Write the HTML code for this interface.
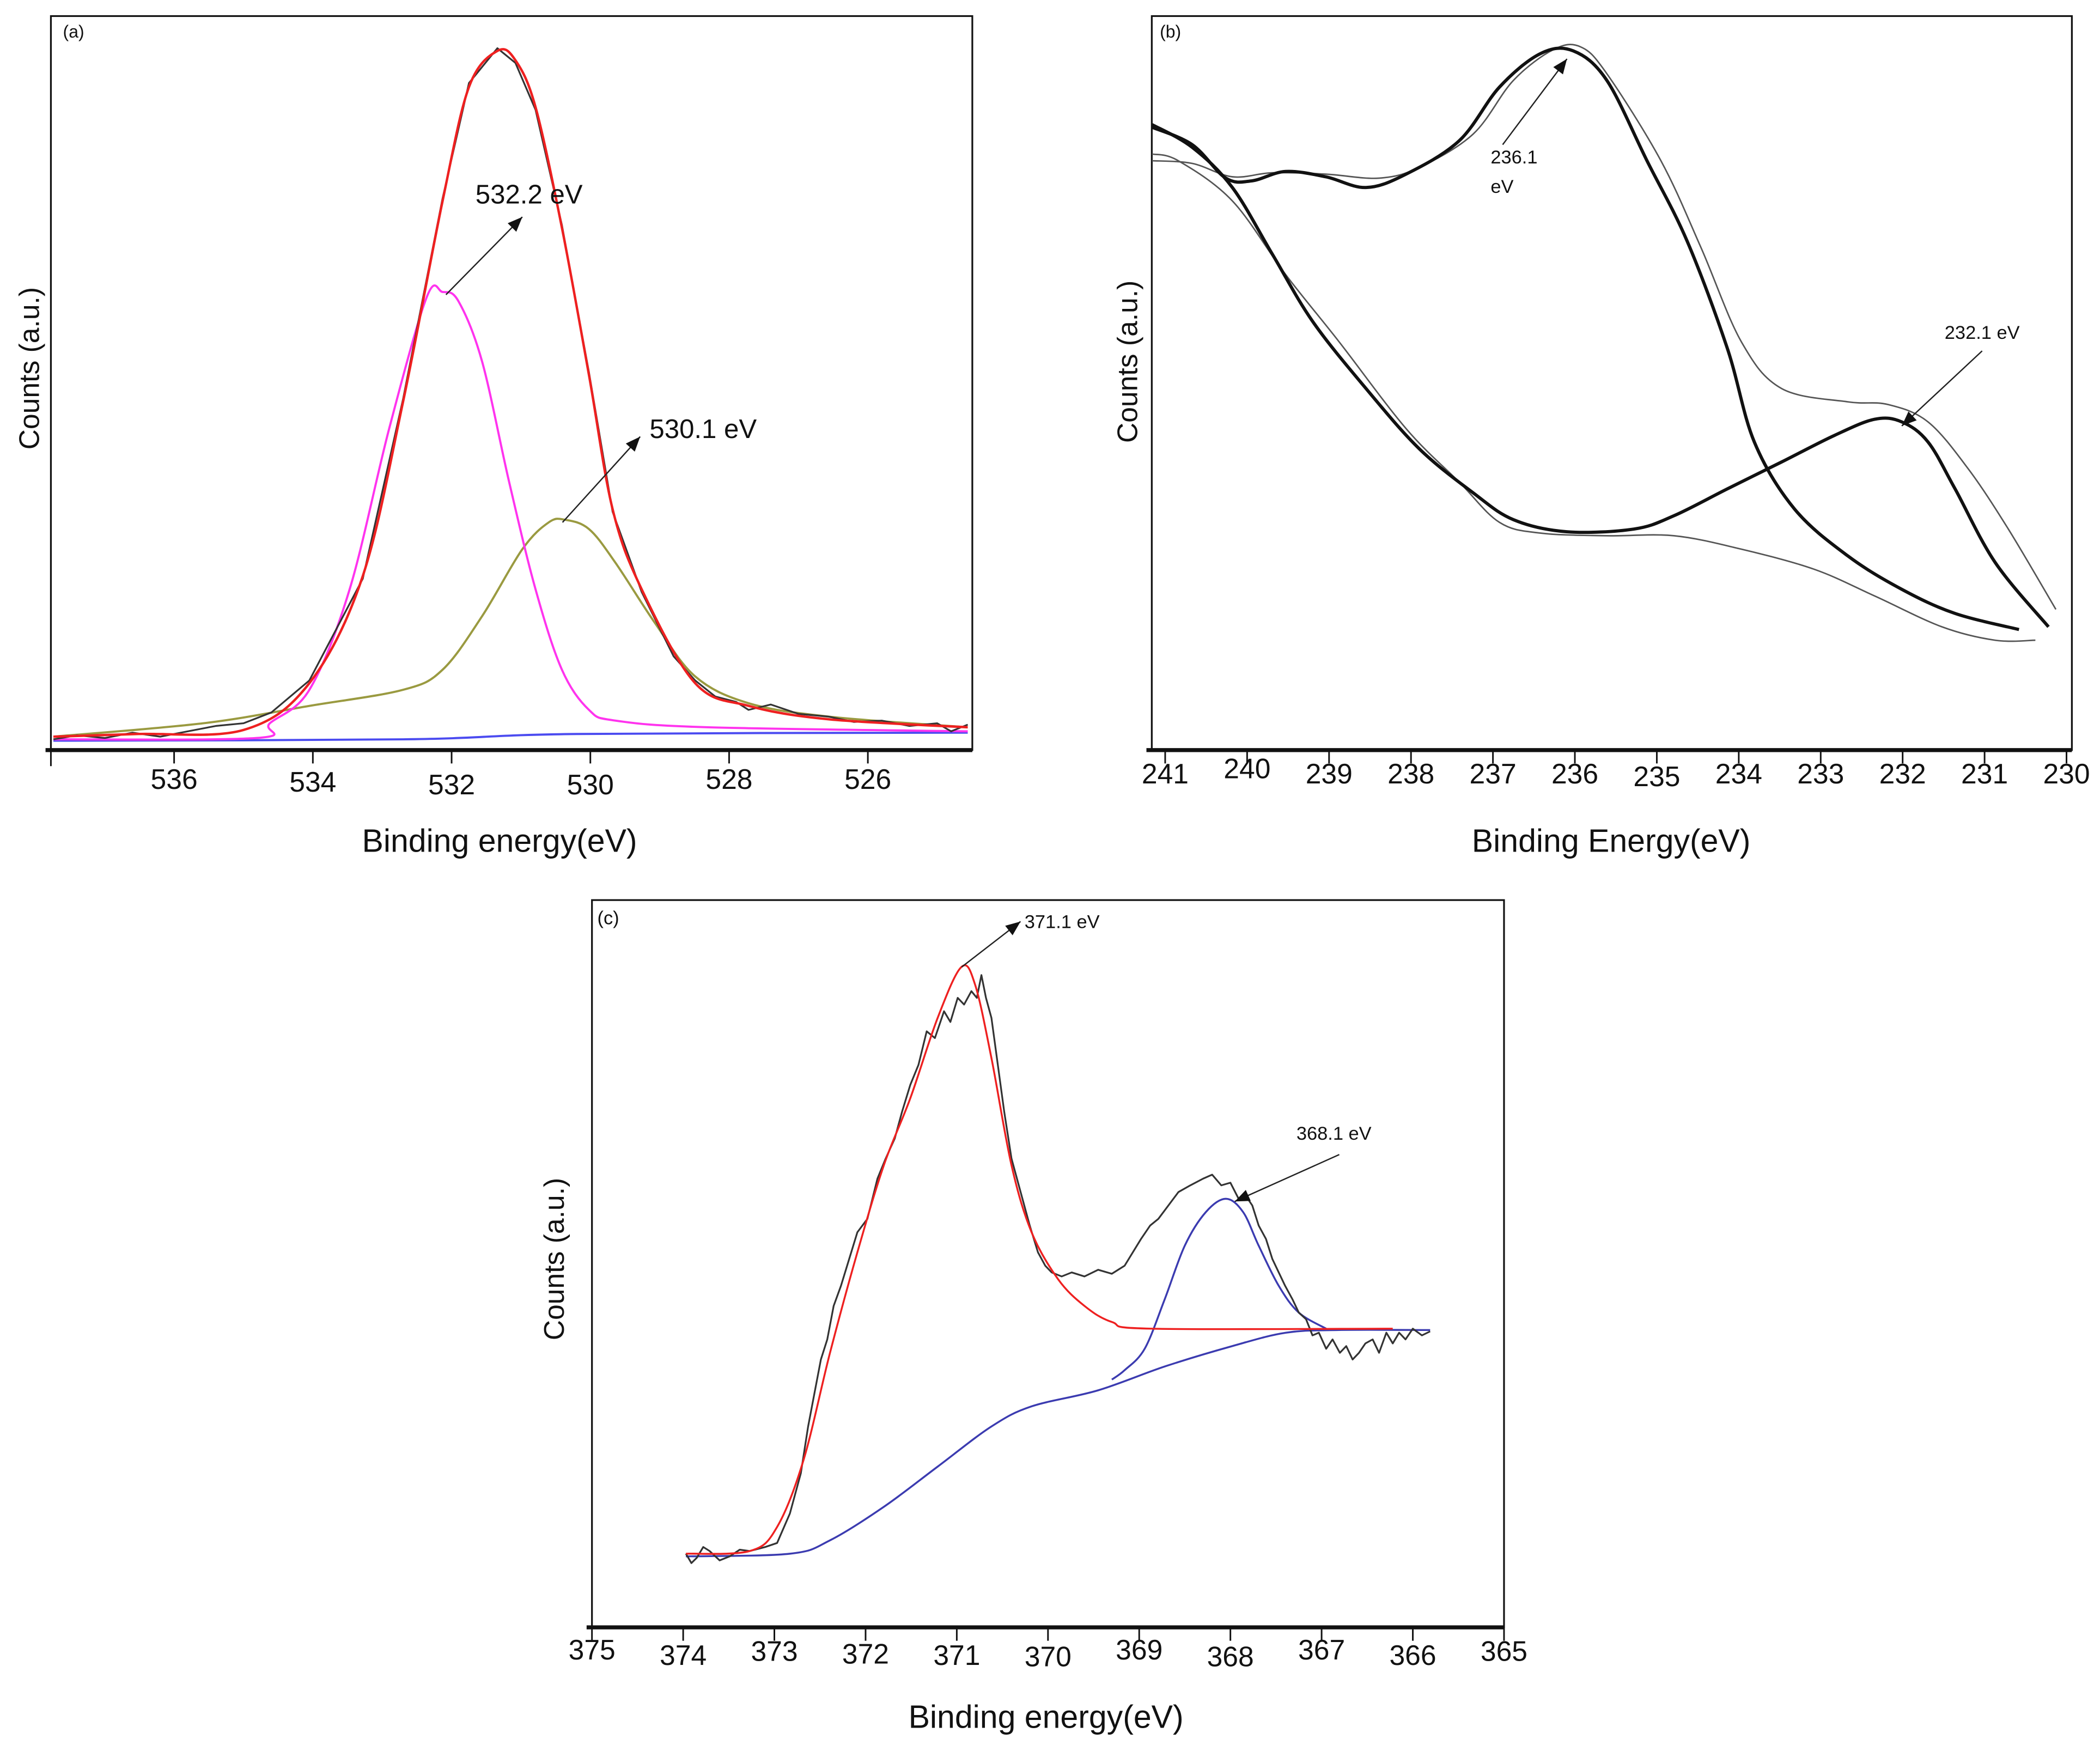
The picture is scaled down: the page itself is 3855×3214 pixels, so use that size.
<!DOCTYPE html>
<html><head><meta charset="utf-8"><style>
html,body{margin:0;padding:0;background:#fff;}
svg{display:block;}
text{font-family:"Liberation Sans",sans-serif;}
</style></head>
<body>
<svg id="fig" width="3855" height="3214" viewBox="0 0 1568 1307.3" preserveAspectRatio="none" xmlns="http://www.w3.org/2000/svg">
<rect x="0" y="0" width="1568" height="1307.3" fill="#fff"/>
</svg>
<script>
// ---------- Panel (a) data ----------
const aTicks = [536, 534, 532, 530, 528, 526];
const aRedE = [537.74,536.54,535.0,534.05,533.28,532.70,532.13,531.75,531.34,531.08,530.79,530.41,530.02,529.68,529.26,528.49,527.72,526.57,524.56];
const aRedC = [10,12,15,50,130,260,410,495,522,515,480,390,280,180,120,50,33,23,17];
const aRawE = [537.74,537.4,537.0,536.6,536.2,535.8,535.4,535.0,534.6,534.05,533.28,532.70,532.13,531.75,531.34,531.08,530.79,530.41,530.02,529.68,529.26,528.8,528.49,528.2,527.9,527.72,527.4,527.0,526.57,526.2,525.8,525.4,525.0,524.8,524.56];
const aRawC = [8,11,9,13,10,14,18,20,28,52,128,262,412,498,524,513,478,392,282,178,118,70,52,40,36,30,34,27,25,21,22,18,20,14,19];
const aPinkE = [537.74,534.81,534.62,534.05,533.47,532.9,532.36,532.13,531.9,531.56,531.17,530.79,530.41,530.02,529.64,528.3,524.56];
const aPinkC = [8,9,20,45,120,240,338,342,335,290,200,120,60,30,22,17,14];
const aOliveE = [537.74,535.58,534.05,532.7,532.13,531.56,530.98,530.6,530.37,530.02,529.64,529.07,528.49,527.72,526.57,524.56];
const aOliveC = [10,20,33,45,60,100,150,170,172,165,140,95,55,35,25,17];
const aBlueE = [537.74,532.7,530.2,524.56];
const aBlueC = [7,8,12,13];

// ---------- Panel (b) data ----------
const bTicks = [241,240,239,238,237,236,235,234,233,232,231,230];
const bThick1E = [241.16,240.67,240.26,239.94,239.53,239.04,238.55,238.06,237.41,236.92,236.42,236.02,235.61,235.12,234.63,234.14,233.81,233.32,232.67,232.01,231.36,230.58];
const bThick1C = [465,452,427,425,432,428,420,430,455,495,520,522,500,440,380,300,230,180,145,120,102,90];
const bThick2E = [241.16,240.67,240.18,239.69,239.2,238.55,237.9,237.24,236.75,236.1,235.28,234.79,234.14,233.48,232.83,232.34,232.01,231.69,231.36,230.87,230.22];
const bThick2C = [467,450,420,370,320,270,225,192,172,163,165,175,195,215,235,247,245,230,195,140,92];
const bThin1E = [241.16,240.67,240.18,239.69,239.04,238.39,237.9,237.24,236.75,236.26,235.93,235.61,234.95,234.46,233.97,233.48,232.67,232.18,231.69,231.2,230.71,230.13];
const bThin1C = [440,438,428,431,430,427,435,460,500,523,525,505,440,375,305,270,260,258,245,210,165,105];
const bThin2E = [241.16,240.84,240.18,239.53,238.88,238.06,237.41,236.92,236.42,235.61,234.79,233.97,233.08,232.34,231.52,230.87,230.38];
const bThin2C = [445,440,410,355,305,240,200,170,162,160,160,150,135,115,92,82,82];

// ---------- Panel (c) data ----------
const cTicks = [375,374,373,372,371,370,369,368,367,366,365];
const cRawE = [373.97,373.91,373.85,373.78,373.71,373.6,373.49,373.38,373.27,373.1,372.97,372.83,372.71,372.63,372.56,372.49,372.42,372.35,372.27,372.18,372.09,371.98,371.87,371.78,371.68,371.6,371.51,371.42,371.33,371.24,371.14,371.07,370.99,370.92,370.84,370.78,370.73,370.68,370.62,370.55,370.48,370.4,370.3,370.2,370.11,370.03,369.96,369.85,369.74,369.6,369.45,369.3,369.16,369.07,368.98,368.88,368.79,368.68,368.57,368.44,368.3,368.2,368.1,368.0,367.91,367.83,367.76,367.69,367.61,367.54,367.47,367.4,367.32,367.25,367.17,367.1,367.03,366.95,366.88,366.8,366.73,366.66,366.59,366.52,366.44,366.37,366.29,366.22,366.15,366.08,366.0,365.9,365.81];
const cRawC = [55,48,52,60,57,50,53,58,57,60,63,85,115,150,175,200,215,240,255,275,295,305,335,350,365,385,405,420,445,440,460,452,470,465,475,470,487,470,455,420,385,350,325,300,280,270,265,262,265,262,267,264,270,280,290,300,305,315,325,330,335,338,330,332,320,322,315,300,290,275,265,255,245,235,230,218,220,208,215,205,210,200,205,212,215,205,220,212,220,215,223,218,221];
const cRedE = [373.97,373.27,372.97,372.68,372.39,372.09,371.8,371.51,371.21,370.95,370.8,370.62,370.4,370.18,369.89,369.6,369.3,368.86,366.22];
const cRedC = [55,57,75,125,205,280,345,395,455,493,480,425,345,295,260,240,228,223,223];
const cBgE = [373.97,372.83,372.39,371.8,371.21,370.62,370.18,369.45,368.71,367.98,367.39,366.81,365.81];
const cBgC = [53,55,65,90,120,150,165,177,195,210,220,222,222];
const cPeakE = [369.3,369.16,368.94,368.72,368.5,368.27,368.05,367.86,367.69,367.47,367.25,366.95];
const cPeakC = [185,192,208,245,285,310,320,310,285,255,235,223];

const NS = "http://www.w3.org/2000/svg";
const svg = document.getElementById('fig');
function mk(tag, attrs, parent){
  const e = document.createElementNS(NS, tag);
  for (const k in attrs) e.setAttribute(k, attrs[k]);
  (parent||svg).appendChild(e);
  return e;
}
function makeScale(e0, px0, e1, px1){ return e => px0 + (e - e0) * (px1 - px0) / (e1 - e0); }

function drawLine(g, xs, ys, E, C, color, w, name, smooth){
  const P = E.map((e,i)=>[xs(e), ys(C[i])]);
  let d = 'M' + P[0][0].toFixed(2) + ',' + P[0][1].toFixed(2);
  for (let i=1;i<P.length;i++){
    if (smooth){
      const p0 = P[Math.max(i-2,0)], p1 = P[i-1], p2 = P[i], p3 = P[Math.min(i+1,P.length-1)];
      const c1x = p1[0] + (p2[0]-p0[0])/6, c1y = p1[1] + (p2[1]-p0[1])/6;
      const c2x = p2[0] - (p3[0]-p1[0])/6, c2y = p2[1] - (p3[1]-p1[1])/6;
      d += 'C' + c1x.toFixed(2)+','+c1y.toFixed(2)+' '+c2x.toFixed(2)+','+c2y.toFixed(2)+' '+p2[0].toFixed(2)+','+p2[1].toFixed(2);
    } else {
      d += 'L' + P[i][0].toFixed(2) + ',' + P[i][1].toFixed(2);
    }
  }
  const p = mk('path', {d:d, fill:'none', stroke:color, 'stroke-width':w, 'stroke-linejoin':'round'}, g);
  
  
  return p;
}
function drawText(g, x, y, s, size, name, anchor, rot){
  const t = mk('text', {x:x, y:y, 'font-size':size, 'text-anchor':anchor||'start', fill:'#111'}, g);
  if (rot) t.setAttribute('transform', 'rotate(-90 '+x+' '+y+')');
  t.textContent = s;
  
  
  return t;
}
function arrow(g, x1, y1, x2, y2, name){
  const l = mk('line', {x1:x1,y1:y1,x2:x2,y2:y2,stroke:'#222','stroke-width':1}, g);
  
  
  const a = Math.atan2(y2-y1, x2-x1), L = 11, W = 4.5;
  const bx = x2 - L*Math.cos(a), by = y2 - L*Math.sin(a);
  const p = mk('polygon', {points: x2+','+y2+' '+(bx - W*Math.sin(a))+','+(by + W*Math.cos(a))+' '+(bx + W*Math.sin(a))+','+(by - W*Math.cos(a)), fill:'#111'}, g);
  
  
}
function frame(g, L, T, R, B, name){
  const r = mk('rect', {x:L,y:T,width:R-L,height:B-T,fill:'none',stroke:'#111','stroke-width':1.3}, g);
  
  
  const ax = mk('line', {x1:L-4,y1:B,x2:R,y2:B,stroke:'#111','stroke-width':3}, g);
  
  
}
function ticks(g, ticksArr, xs, B, labelY, stagger, size){
  ticksArr.forEach((t,i)=>{
    const x = xs(t);
    const tk = mk('line', {x1:x,y1:B,x2:x,y2:B+10,stroke:'#111','stroke-width':1.2}, g);
    
    
    const dy = stagger ? stagger[i % stagger.length] : 0;
    drawText(g, x, labelY + dy, String(t), size, 'x-tick-label', 'middle');
  });
}

// ---------- Panel A ----------
(function(){
  const g = mk('g', {});
  
  
  const L=38,T=12,R=726,B=560;
  const xs = makeScale(536, 130, 526, 648);
  const ys = c => 560 - c;
  frame(g, L, T, R, B, 'panel-a-frame');
  const lt = mk('line',{x1:L,y1:B,x2:L,y2:B+12,stroke:'#111','stroke-width':1.2},g);
  
  
  ticks(g, aTicks, xs, B, 589, [0,2,4,4,0,0], 21);
  drawLine(g, xs, ys, aBlueE, aBlueC, '#4b4bf0', 1.6, 'series-background', true);
  drawLine(g, xs, ys, aOliveE, aOliveC, '#9a9a40', 1.6, 'series-530-peak', true);
  drawLine(g, xs, ys, aPinkE, aPinkC, '#ff33ee', 1.6, 'series-532-peak', true);
  drawLine(g, xs, ys, aRawE, aRawC, '#333', 1.3, 'series-raw-data', false);
  drawLine(g, xs, ys, aRedE, aRedC, '#ee2020', 1.8, 'series-envelope-fit', true);
  drawText(g, 47, 28, '(a)', 13, 'panel-label');
  drawText(g, 355, 152, '532.2 eV', 20, 'annotation-532');
  arrow(g, 333, 220, 390, 162, 'arrow-532');
  drawText(g, 485, 327, '530.1 eV', 20, 'annotation-530');
  arrow(g, 420, 390, 478, 326, 'arrow-530');
  drawText(g, 373, 636, 'Binding energy(eV)', 24, 'x-axis-title', 'middle');
  drawText(g, 29, 275, 'Counts (a.u.)', 21, 'y-axis-title', 'middle', true);
})();

// ---------- Panel B ----------
(function(){
  const g = mk('g', {});
  
  
  const L=860,T=12,R=1547,B=560;
  const xs = makeScale(241, 870, 230, 1543);
  const ys = c => 560 - c;
  frame(g, L, T, R, B, 'panel-b-frame');
  ticks(g, bTicks, xs, B, 585, [0,-4,0,0,0,0,2,0,0,0,0,0], 21);
  drawLine(g, xs, ys, bThin1E, bThin1C, '#555', 1.1, 'series-thin-upper', true);
  drawLine(g, xs, ys, bThin2E, bThin2C, '#555', 1.1, 'series-thin-lower', true);
  drawLine(g, xs, ys, bThick1E, bThick1C, '#111', 2.4, 'series-thick-upper', true);
  drawLine(g, xs, ys, bThick2E, bThick2C, '#111', 2.4, 'series-thick-lower', true);
  drawText(g, 866, 28, '(b)', 13, 'panel-label');
  drawText(g, 1113, 122, '236.1', 14, 'annotation-236');
  drawText(g, 1113, 144, 'eV', 14, 'annotation-236-unit');
  arrow(g, 1122, 108, 1170, 44, 'arrow-236');
  drawText(g, 1452, 253, '232.1 eV', 14, 'annotation-232');
  arrow(g, 1480, 262, 1420, 318, 'arrow-232');
  drawText(g, 1203, 636, 'Binding Energy(eV)', 24, 'x-axis-title', 'middle');
  drawText(g, 849, 270, 'Counts (a.u.)', 21, 'y-axis-title', 'middle', true);
})();

// ---------- Panel C ----------
(function(){
  const g = mk('g', {});
  
  
  const L=442,T=672,R=1123,B=1215;
  const xs = makeScale(375, 442, 365, 1123);
  const ys = c => 1215 - c;
  frame(g, L, T, R, B, 'panel-c-frame');
  ticks(g, cTicks, xs, B, 1239, [0,4,1,3,4,5,0,5,0,4,1], 21);
  drawLine(g, xs, ys, cBgE, cBgC, '#3b3bb0', 1.4, 'series-background', true);
  drawLine(g, xs, ys, cPeakE, cPeakC, '#3b3bb0', 1.4, 'series-368-peak', true);
  drawLine(g, xs, ys, cRawE, cRawC, '#333', 1.3, 'series-raw-data', false);
  drawLine(g, xs, ys, cRedE, cRedC, '#ee2020', 1.4, 'series-371-fit', true);
  drawText(g, 446, 690, '(c)', 14, 'panel-label');
  drawText(g, 765, 693, '371.1 eV', 14, 'annotation-371');
  arrow(g, 718, 722, 762, 688, 'arrow-371');
  drawText(g, 968, 851, '368.1 eV', 14, 'annotation-368');
  arrow(g, 1000, 862, 922, 897, 'arrow-368');
  drawText(g, 781, 1290, 'Binding energy(eV)', 24, 'x-axis-title', 'middle');
  drawText(g, 421, 940, 'Counts (a.u.)', 21, 'y-axis-title', 'middle', true);
})();
</script>
</body></html>
